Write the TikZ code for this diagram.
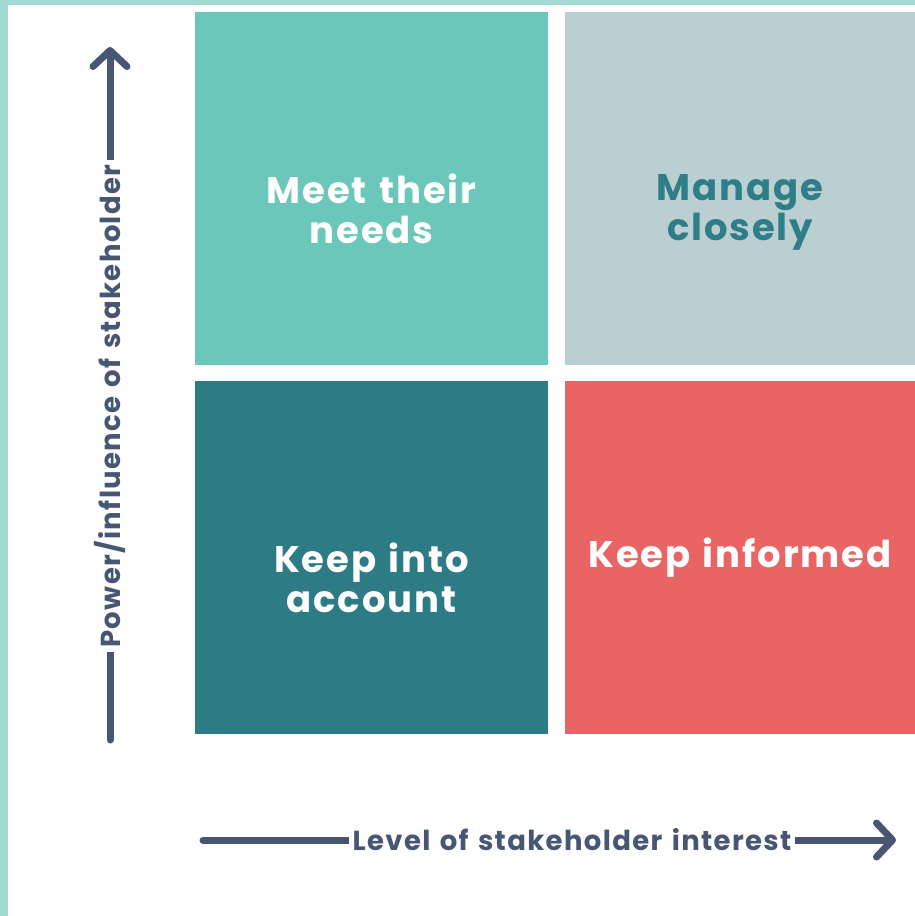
\documentclass[tikz,border=0pt]{standalone}
\usepackage{fontspec}
\setmainfont{Poppins}[LetterSpace=5, WordSpace=1.3]
\usetikzlibrary{arrows.meta}
\definecolor{frameteal}{HTML}{A3D9D3}
\definecolor{meetc}{HTML}{6BC7B9}
\definecolor{managec}{HTML}{BACFD2}
\definecolor{keepac}{HTML}{2C7B85}
\definecolor{keepic}{HTML}{E96464}
\definecolor{managetext}{HTML}{2E7D87}
\definecolor{axisc}{HTML}{475673}
\tikzset{
  quad/.style={anchor=north west, inner sep=0pt, minimum width=353pt, minimum height=353pt},
  quadtext/.style={align=center, font=\fontsize{37}{40}\selectfont\bfseries, inner sep=0pt},
  axisarrow/.style={draw=axisc, line width=7pt, line cap=round, -{Straight Barb[round, length=16pt, width=34pt, line width=7pt]}},
  axislabel/.style={fill=white, text=axisc, font=\fontsize{27.5}{30}\selectfont\bfseries, inner xsep=4pt, inner ysep=2pt}
}
\begin{document}
\begin{tikzpicture}[x=1pt, y=-1pt]
\useasboundingbox (0,0) rectangle (915,916);
\fill[white] (0,0) rectangle (915,916);
% frame
\fill[frameteal] (0,0) rectangle (915,5);
\fill[frameteal] (0,0) rectangle (8,916);
% quadrants
\node[quad, fill=meetc] (meet) at (195,12) {};
\node[quad, fill=managec, minimum width=350pt] (manage) at (565,12) {};
\node[quad, fill=keepac] (keepa) at (195,381) {};
\node[quad, fill=keepic, minimum width=350pt] (keepi) at (565,381) {};
% texts
\node[quadtext, text=white] (meett) at (371.5,209) {Meet their\\needs};
\node[quadtext, text=managetext] (managet) at (740,212) {Manage\\closely};
\node[quadtext, text=white] (keepat) at (371.5,578) {Keep into\\account};
\node[quadtext, text=white] (keepit) at (740,558) {Keep informed};
% axes
\coordinate (ybot) at (110,740);
\coordinate (ytop) at (110,47);
\coordinate (xleft) at (203,840);
\coordinate (xright) at (896,840);
\draw[axisarrow] (ybot) -- (ytop) node[pos=0.482, axislabel, rotate=90] (ylab) {Power/influence of stakeholder};
\draw[axisarrow] (xleft) -- (xright) node[pos=0.5325, axislabel] (xlab) {Level of stakeholder interest};
\end{tikzpicture}
\end{document}
